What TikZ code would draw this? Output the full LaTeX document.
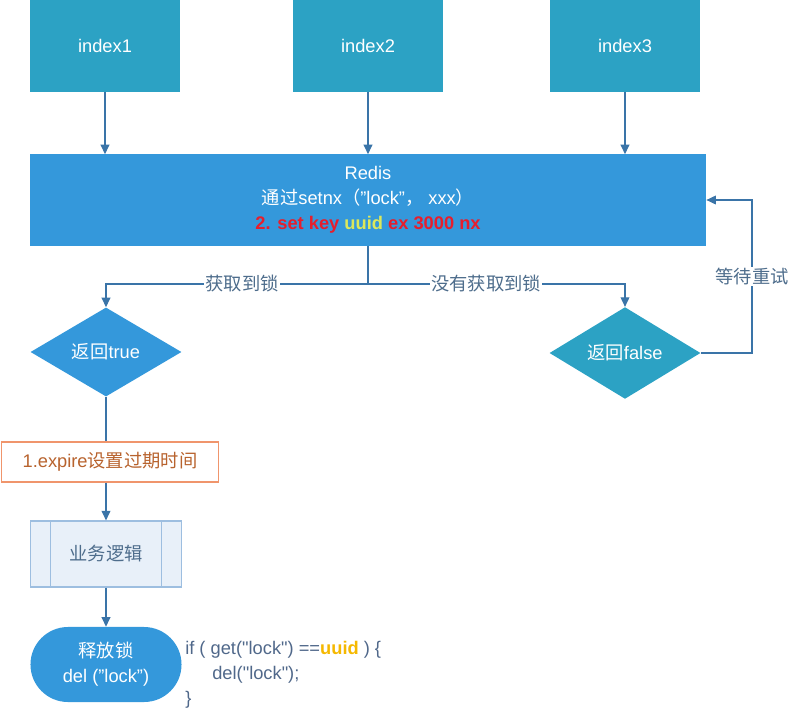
\documentclass[tikz,border=0pt]{standalone}
\usepackage{fontspec}
\setmainfont{Liberation Sans}
\newfontfamily\cjk{Noto Sans CJK SC}
\newfontfamily\codefont{Liberation Sans}
\usepackage{xcolor}
\usetikzlibrary{shapes.geometric, arrows.meta}

\definecolor{indexteal}{HTML}{2CA2C4}
\definecolor{redisblue}{HTML}{3498DB}
\definecolor{linkblue}{HTML}{3A74A8}
\definecolor{labelgray}{HTML}{4E6D8C}
\definecolor{keyred}{HTML}{E61E2D}
\definecolor{uuidlime}{HTML}{DCE85A}
\definecolor{expireorange}{HTML}{F0956C}
\definecolor{expiretext}{HTML}{B8632E}
\definecolor{bizfill}{HTML}{E8F0F9}
\definecolor{bizline}{HTML}{9DBEE0}
\definecolor{codeblue}{HTML}{50688A}
\definecolor{uuidorange}{HTML}{F5B800}

\begin{document}
\begin{tikzpicture}[x=0.025cm, y=-0.025cm, font=\fontsize{13}{17.8}\selectfont,
	link/.style={draw=linkblue, line width=0.9pt},
	arrow/.style={link, -{Triangle[length=2.4mm, width=2.2mm]}},
	idxbox/.style={rectangle, fill=indexteal, text=white, minimum width=3.75cm, minimum height=2.3cm},
	choice/.style={diamond, text=white, inner sep=0pt, minimum width=3.775cm, minimum height=2.225cm},
	lbl/.style={fill=white, text=labelgray, inner sep=1pt, font=\fontsize{13}{17.8}\selectfont\cjk}]
	\useasboundingbox (0,0) rectangle (804,717);

	\node[idxbox] (i1) at (105,46) {index1};
	\node[idxbox] (i2) at (368,46) {index2};
	\node[idxbox] (i3) at (625,46) {index3};

	\node[fill=redisblue, text=white, align=center, minimum width=16.9cm, minimum height=2.275cm] (redis) at (368,200)
		{Redis\\{\cjk 通过}setnx{\cjk （}”lock”{\cjk ，} xxx{\cjk ）}\\{\bfseries\color{keyred}2. set key {\color{uuidlime}uuid} ex 3000 nx}};

	\coordinate (split) at (368,284);
	\coordinate (retry) at (752,200);

	\node[choice, fill=redisblue] (yes) at (106,352) {{\cjk 返回}true};
	\node[choice, fill=indexteal] (no) at (625,353) {{\cjk 返回}false};

	\node[draw=expireorange, fill=white, text=expiretext, line width=0.8pt, minimum width=5.425cm, minimum height=1cm] (expire) at (110,462)
		{1.expire{\cjk 设置过期时间}};

	\node[draw=bizline, fill=bizfill, text=labelgray, line width=0.8pt, minimum width=3.775cm, minimum height=1.65cm] (biz) at (106,554)
		{\cjk 业务逻辑};
	\draw[bizline, line width=0.8pt] ([xshift=0.525cm]biz.north west) -- ([xshift=0.525cm]biz.south west);
	\draw[bizline, line width=0.8pt] ([xshift=-0.525cm]biz.north east) -- ([xshift=-0.525cm]biz.south east);

	\node[fill=redisblue, text=white, align=center, rounded corners=0.9375cm, minimum width=3.775cm, minimum height=1.875cm] (free) at (106,664.5)
		{{\cjk 释放锁}\\del (”lock”)};

	\node[text=codeblue, anchor=west, align=left, inner sep=0pt, font=\fontsize{13}{17.8}\selectfont\codefont] (code) at (185,675)
		{if ( get("lock") ==\textbf{\color{uuidorange}uuid} ) \{\\\hspace*{0.675cm}del("lock");\\\}};

	% Draw the connectors between the nodes
	\draw[arrow] (i1) -- (i1 |- redis.north);
	\draw[arrow] (i2) -- (i2 |- redis.north);
	\draw[arrow] (i3) -- (i3 |- redis.north);
	\draw[link] (redis.south) -- (split);
	\draw[arrow] (split) -| node[lbl, pos=0.24] {获取到锁} (yes.north);
	\draw[arrow] (split) -| node[lbl, pos=0.23] {没有获取到锁} (no.north);
	\draw[arrow] (no.east) -| node[lbl, pos=0.75] {等待重试} (retry) -- (redis.east);
	\draw[link] (yes.south) -- (yes.south |- expire.north);
	\draw[arrow] (yes.south |- expire.south) -- (biz.north);
	\draw[arrow] (biz.south) -- (free.north);
\end{tikzpicture}
\end{document}
